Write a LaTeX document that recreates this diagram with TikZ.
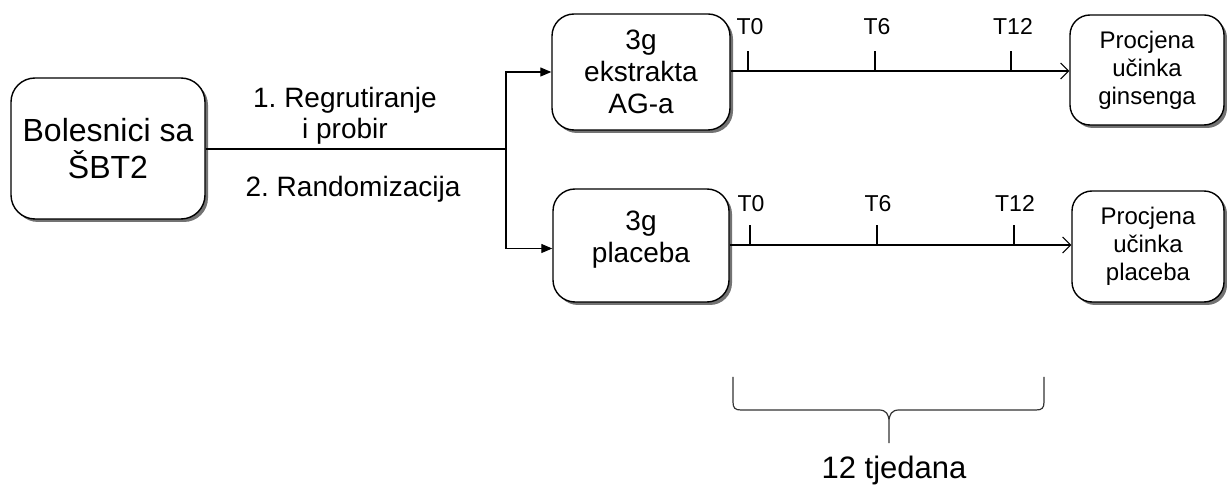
\documentclass[tikz,border=0pt]{standalone}
\usepackage{fontspec}
\setmainfont{Liberation Sans}
\usetikzlibrary{arrows.meta,shadows}
\frenchspacing
\begin{document}
\begin{tikzpicture}[x=1pt,y=-1pt,
  box/.style={draw=black, line width=1.4pt, fill=white, align=center, inner sep=0pt,
    drop shadow={shadow xshift=3pt, shadow yshift=-3pt, fill=black!55, opacity=1}},
  conn/.style={draw=black, line width=1.1pt},
  splitarrow/.style={conn, -{Triangle[length=11pt,width=9pt]}},
  timearrow/.style={conn, -{Straight Barb[length=8pt,width=16pt,line width=1.1pt]}},
  tickmark/.style={conn},
  ticklbl/.style={font=\fontsize{23}{26}\selectfont, anchor=base, inner sep=0pt},
  steplbl/.style={font=\fontsize{28}{31}\selectfont, align=center, inner sep=0pt},
  midtext/.style={font=\fontsize{28}{32}\selectfont, align=center, inner sep=0pt}
]
\useasboundingbox (0,0) rectangle (1227,486);

% boxes
\node[box, rounded corners=24pt, minimum width=194pt, minimum height=141pt,
      font=\fontsize{32}{37}\selectfont] (pat) at (108,148.5) {Bolesnici sa\\ŠBT2};
\node[box, rounded corners=22pt, minimum width=178pt, minimum height=116pt,
      font=\fontsize{28}{32}\selectfont] (ag) at (641,72) {3g\\ekstrakta\\AG-a};
\node[box, rounded corners=22pt, minimum width=176pt, minimum height=113pt] (pl) at (641,245.5) {};
\node[midtext] (plt) at (641,239.5) {3g\\placeba};
\node[box, rounded corners=20pt, minimum width=154pt, minimum height=110pt,
      font=\fontsize{24}{28}\selectfont] (rg) at (1147,70) {Procjena\\učinka\\ginsenga};
\node[box, rounded corners=20pt, minimum width=152pt, minimum height=111pt,
      font=\fontsize{24}{28}\selectfont] (rp) at (1148,246.5) {Procjena\\učinka\\placeba};

% split
\coordinate (split) at (506,149);
\draw[conn] (pat.east |- split) -- (split);
\draw[splitarrow] (split) |- (ag.west);
\draw[splitarrow] (split) |- ([yshift=-3pt]pl.west);

\node[steplbl] (s1) at (345,116) {1. Regrutiranje\\i probir};
\node[steplbl, anchor=base] (s2) at (353,197) {2. Randomizacija};

% timelines
\draw[timearrow] (ag.east |- 0,71) -- (rg.west |- 0,71);
\draw[timearrow] (pl.east |- 0,245) -- (rp.west |- 0,245);

\foreach \x/\l/\n in {748/T0/a, 875/T6/b, 1011/T12/c}{
  \coordinate (ut\n) at (\x,71);
  \draw[tickmark] (ut\n) -- ++(0,-20);
  \node[ticklbl] (ul\n) at (\x+2,35) {\l};
}
\foreach \x/\l/\n in {750/T0/a, 877/T6/b, 1014/T12/c}{
  \coordinate (lt\n) at (\x,245);
  \draw[tickmark] (lt\n) -- ++(0,-20);
  \node[ticklbl] (ll\n) at (\x+1,212) {\l};
}

% brace
\draw[conn, line width=1.2pt, draw=black!80]
  (733,377) -- (733,402) .. controls (733,408) and (735,410) .. (741,410)
  -- (879,410) .. controls (886,410) and (889,414) .. (889,422) -- (889,443)
  (889,422) .. controls (889,414) and (892,410) .. (899,410)
  -- (1036,410) .. controls (1042,410) and (1044,408) .. (1044,402) -- (1044,377);
\node[font=\fontsize{31}{34}\selectfont, anchor=base, inner sep=0pt] (dur) at (894,478) {12 tjedana};
\end{tikzpicture}
\end{document}
